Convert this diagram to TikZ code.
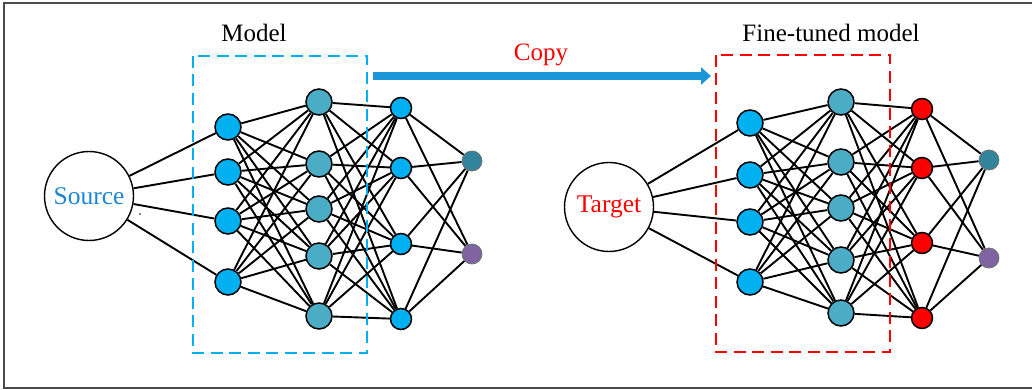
\documentclass[tikz,border=0pt]{standalone}
\usepackage{fontspec}
\setmainfont{Liberation Serif}
\usetikzlibrary{arrows.meta,backgrounds}
\definecolor{inblue}{HTML}{00B0F0}
\definecolor{hidaqua}{HTML}{4BACC6}
\definecolor{outteal}{HTML}{31849B}
\definecolor{outpurple}{HTML}{8064A2}
\definecolor{copyblue}{HTML}{1C96D9}
\definecolor{srcblue}{HTML}{1D86D3}
\definecolor{framegray}{HTML}{4A4A4A}
\tikzset{
  neuron/.style={circle, draw=black, line width=1.5pt, inner sep=0pt, minimum size=#1},
  neuron/.default=26pt,
  outneuron/.style={circle, draw=black!55, line width=0.8pt, inner sep=0pt, minimum size=20pt},
  bignode/.style={circle, draw=black, line width=1.4pt, inner sep=0pt, minimum size=89pt,
    font=\fontsize{25.5}{28}\selectfont},
  link/.style={line width=1.9pt, black},
  title/.style={font=\fontsize{25}{28}\selectfont, inner sep=0pt},
  cropbox/.style={line width=2pt, dash pattern=on 12pt off 6.5pt}
}
\begin{document}
\begin{tikzpicture}[x=1pt,y=-1pt]
\useasboundingbox (0,0) rectangle (1032,390);
% outer frame (open on the right)
\draw[framegray, line width=1.5pt] (1032,3) -- (4,3) -- (4,388) -- (1032,388);

% ---------------- source network ----------------
\node[bignode, text=srcblue] (S) at (89,196) {Source};
\foreach \y [count=\i] in {127,172,221,282}
  \node[neuron, fill=inblue] (sa\i) at (228,\y) {};
\foreach \y [count=\i] in {102,164,209,256,316}
  \node[neuron, fill=hidaqua] (sb\i) at (319,\y) {};
\foreach \y [count=\i] in {108,168,244,319}
  \node[neuron=21pt, fill=inblue] (sc\i) at (401,\y) {};
\node[outneuron, fill=outteal] (so1) at (472,161) {};
\node[outneuron, fill=outpurple] (so2) at (472,254) {};
\fill (140,214) circle (0.9pt);

% ---------------- target network ----------------
\node[bignode, text=red] (T) at (609,207) {Target};
\foreach \y [count=\i] in {123,175,222,282}
  \node[neuron, fill=inblue] (ta\i) at (750,\y) {};
\foreach \y [count=\i] in {102,162,208,260,313}
  \node[neuron, fill=hidaqua] (tb\i) at (841,\y) {};
\foreach \y [count=\i] in {109,168,243,318}
  \node[neuron=21pt, fill=red] (tc\i) at (922,\y) {};
\node[outneuron, fill=outteal] (to1) at (989,160) {};
\node[outneuron, fill=outpurple] (to2) at (989,258) {};

% ---------------- connections ----------------
\begin{scope}[on background layer]
  \foreach \i in {1,...,4} {
    \draw[link] (S) -- (sa\i);
    \draw[link] (T) -- (ta\i);
  }
  \foreach \n in {s,t} {
    \foreach \i in {1,...,4} {
      \foreach \j in {1,...,5} \draw[link] (\n a\i) -- (\n b\j);
      \foreach \j in {1,...,5} \draw[link] (\n b\j) -- (\n c\i);
      \foreach \k in {1,2} \draw[link] (\n c\i) -- (\n o\k);
    }
  }
\end{scope}

% ---------------- boxes, titles, copy arrow ----------------
\draw[cropbox, inblue] (193,56) rectangle (367,353);
\draw[cropbox, red] (716,55) rectangle (890,352);
\node[title] (mtitle) at (254,33) {Model};
\node[title] (ftitle) at (831,33) {Fine-tuned model};
\coordinate (cpfrom) at (373,76);
\coordinate (cpto) at (711,76);
\draw[copyblue, line width=8pt, -{Triangle[length=10pt,width=17pt]}] (cpfrom) -- (cpto);
\node[title, text=red] (copy) at (541,55) {Copy};
\end{tikzpicture}
\end{document}
